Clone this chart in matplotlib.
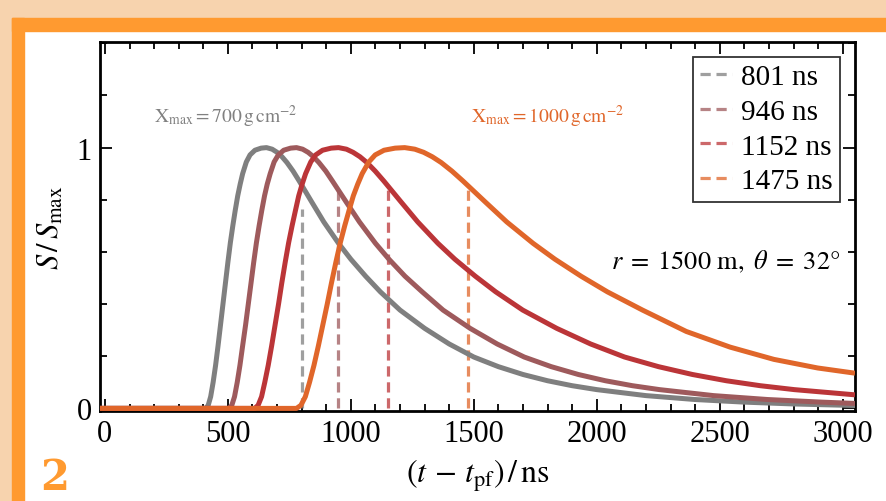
import matplotlib
matplotlib.use("Agg")
import matplotlib.pyplot as plt
from matplotlib.patches import Rectangle
from matplotlib.ticker import MultipleLocator

plt.rcParams['font.family'] = ['Liberation Serif', 'DejaVu Serif']
plt.rcParams['mathtext.fontset'] = 'stix'

# values (t in ns, S/Smax)
t_gray = [-20, 410, 420, 430, 440, 450, 460, 470, 480, 490, 500, 510, 520, 530, 540, 550,
          560, 575, 590, 610, 635, 657, 680, 700, 720, 740, 765, 790, 840, 890, 950, 1000,
          1060, 1120, 1200, 1300, 1400, 1500, 1600, 1700, 1800, 1900, 2000, 2200, 2400,
          2600, 2800, 3050]
s_gray = [0, 0, 0.012, 0.045, 0.10, 0.165, 0.24, 0.32, 0.40, 0.48, 0.56, 0.635, 0.70, 0.76,
          0.815, 0.86, 0.90, 0.945, 0.972, 0.99, 0.998, 1.0, 0.994, 0.982, 0.965, 0.943,
          0.91, 0.872, 0.793, 0.715, 0.633, 0.572, 0.507, 0.447, 0.377, 0.307, 0.247, 0.197,
          0.16, 0.13, 0.106, 0.087, 0.072, 0.049, 0.034, 0.024, 0.017, 0.011]

t_mauve = [-20, 505, 516, 527, 538, 549, 560, 572, 583, 594, 605, 616, 627, 638, 649, 660,
           672, 688, 705, 727, 755, 779, 804, 826, 848, 870, 898, 925, 980, 1035, 1100,
           1155, 1220, 1290, 1375, 1485, 1595, 1705, 1815, 1925, 2035, 2145, 2255, 2475,
           2695, 2915, 3050]
s_mauve = [0, 0, 0.012, 0.045, 0.10, 0.165, 0.24, 0.32, 0.40, 0.48, 0.56, 0.635, 0.70,
           0.76, 0.815, 0.86, 0.90, 0.945, 0.972, 0.99, 0.998, 1.0, 0.994, 0.982, 0.965,
           0.943, 0.91, 0.872, 0.793, 0.715, 0.633, 0.572, 0.507, 0.447, 0.377, 0.307,
           0.247, 0.197, 0.16, 0.13, 0.106, 0.087, 0.072, 0.049, 0.034, 0.024, 0.019]

t_red = [-20, 609, 623, 637, 650, 664, 678, 692, 706, 719, 733, 747, 761, 775, 788, 802,
         816, 837, 857, 885, 920, 950, 982, 1009, 1037, 1065, 1099, 1134, 1203, 1272, 1354,
         1423, 1506, 1589, 1699, 1837, 1975, 2113, 2251, 2389, 2527, 2665, 2803, 3050]
s_red = [0, 0, 0.012, 0.045, 0.10, 0.165, 0.24, 0.32, 0.40, 0.48, 0.56, 0.635, 0.70, 0.76,
         0.815, 0.86, 0.90, 0.945, 0.972, 0.99, 0.998, 1.0, 0.994, 0.982, 0.965, 0.943,
         0.91, 0.872, 0.793, 0.715, 0.633, 0.572, 0.507, 0.447, 0.377, 0.307, 0.247, 0.197,
         0.16, 0.13, 0.106, 0.087, 0.072, 0.052]

t_orange = [-20, 779, 797, 815, 832, 850, 868, 886, 904, 921, 939, 957, 975, 993, 1010,
            1028, 1046, 1073, 1099, 1135, 1180, 1219, 1260, 1296, 1331, 1367, 1411, 1456,
            1545, 1634, 1741, 1830, 1936, 2043, 2186, 2364, 2542, 2720, 2898, 3050]
s_orange = [0, 0, 0.012, 0.045, 0.10, 0.165, 0.24, 0.32, 0.40, 0.48, 0.56, 0.635, 0.70,
            0.76, 0.815, 0.86, 0.90, 0.945, 0.972, 0.99, 0.998, 1.0, 0.994, 0.982, 0.965,
            0.943, 0.91, 0.872, 0.793, 0.715, 0.633, 0.572, 0.507, 0.447, 0.377, 0.295,
            0.235, 0.188, 0.155, 0.135]

labels = ['801 ns', '946 ns', '1152 ns', '1475 ns']
t_mean = [801, 946, 1152, 1475]
dash_top = [0.765, 0.84, 0.84, 0.85]
colors = ['#7f7f7f', '#9e5a5c', '#bb3538', '#e0662a']

fig = plt.figure(figsize=(8.86, 5.02), dpi=100)

# page decoration (border stripes)
fig.patches.append(Rectangle((0, 1 - 19/502), 1, 19/502, transform=fig.transFigure,
                             color='#f7d3ae', zorder=0))
fig.patches.append(Rectangle((0, 0), 12/886, 1, transform=fig.transFigure,
                             color='#f7d3ae', zorder=0))
fig.patches.append(Rectangle((12/886, 1 - 31.5/502), 1, 12.5/502, transform=fig.transFigure,
                             color='#ff9a30', zorder=1))
fig.patches.append(Rectangle((12/886, 0), 12/886, 1 - 19/502, transform=fig.transFigure,
                             color='#ff9a30', zorder=1))
fig.text(55/886, 1 - 478/502, '2', color='#ff9a30', fontsize=30, fontweight='bold',
         ha='center', va='center', family='DejaVu Serif')

ax = fig.add_axes([100/886, 1 - 412/502, 755/886, 369/502])

curves = [(t_gray, s_gray), (t_mauve, s_mauve), (t_red, s_red), (t_orange, s_orange)]
for (tt, ss), c in zip(curves, colors):
    ax.plot(tt, ss, color=c, lw=3.6, solid_capstyle='butt', solid_joinstyle='round',
            zorder=3)

for tm, top, c, lab in zip(t_mean, dash_top, colors, labels):
    ax.plot([tm, tm], [0, top], color=c, lw=2.3, alpha=0.75, ls=(0, (3.2, 1.8)), zorder=2,
            label=lab)

ax.set_xlim(-20, 3050)
ax.set_ylim(-0.01, 1.405)
ax.xaxis.set_major_locator(MultipleLocator(500))
ax.xaxis.set_minor_locator(MultipleLocator(100))
ax.yaxis.set_major_locator(MultipleLocator(1))
ax.yaxis.set_minor_locator(MultipleLocator(0.2))
ax.tick_params(which='both', direction='in', top=True, right=True, labelsize=22, width=1.3)
ax.tick_params(which='major', length=8.5, pad=6)
ax.tick_params(which='minor', length=5)
for sp in ax.spines.values():
    sp.set_linewidth(2)

ax.set_xlabel(r'$(t\, -\, t_{\mathrm{pf}})\,/\,\mathrm{ns}$', fontsize=23, labelpad=6)
ax.set_ylabel(r'$S\,/\,S_{\mathrm{max}}$', fontsize=22, labelpad=8)

ax.text(492, 1.12, r'$\mathrm{X}_{\mathrm{max}} = 700\,\mathrm{g\,cm^{-2}}$', color='#808080',
        fontsize=14, ha='center', va='center')
ax.text(1800, 1.12, r'$\mathrm{X}_{\mathrm{max}} = 1000\,\mathrm{g\,cm^{-2}}$', color='#e0662a',
        fontsize=14, ha='center', va='center')
ax.text(2990, 0.565, r'$r\; =\; 1500\ \mathrm{m},\ \theta\; =\; 32°$', fontsize=19,
        ha='right', va='center')

leg = ax.legend(loc='upper right', bbox_to_anchor=(0.98, 0.96), borderaxespad=0,
                fontsize=21, handlelength=1.1, handletextpad=0.3, labelspacing=0.28,
                borderpad=0.25, fancybox=False, framealpha=1)
leg.get_frame().set_edgecolor('#333333')
leg.get_frame().set_linewidth(1.3)

fig.savefig('out.png', dpi=100)
